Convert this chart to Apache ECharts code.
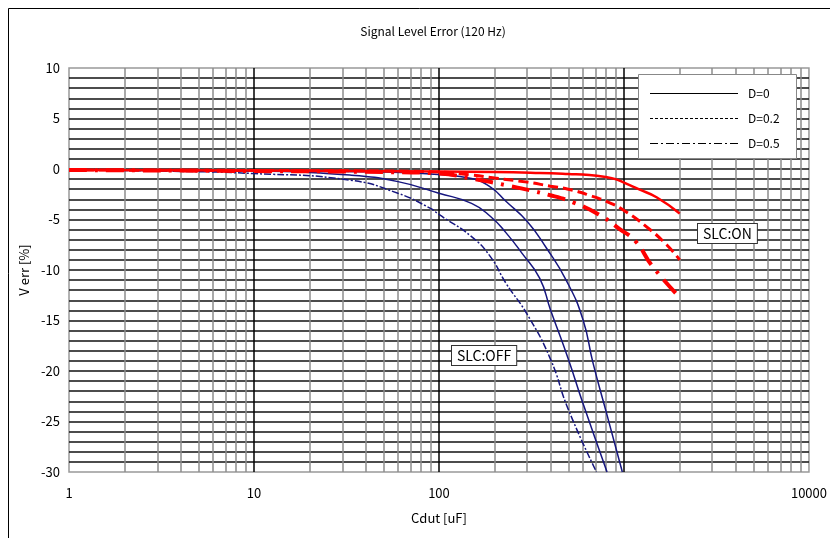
<!DOCTYPE html>
<html>
<head>
<meta charset="utf-8">
<script src="https://cdn.jsdelivr.net/npm/echarts@6/dist/echarts.min.js"></script>
<style>
  html, body { margin: 0; padding: 0; background: #fff; }
  #chart { width: 830px; height: 538px; }
</style>
</head>
<body>
<div id="chart"></div>
<script>
  // SLC:ON (red)
  const onD0X = [1, 10, 100, 200, 350, 500, 650, 800, 900, 1000, 1200, 1500, 2000]
  const onD0Y = [-0.1, -0.15, -0.25, -0.3, -0.4, -0.5, -0.6, -0.8, -1.0, -1.35, -2.0, -2.8, -4.4]
  const onD02X = [1, 10, 50, 100, 150, 200, 300, 400, 500, 650, 850, 1000, 1300, 1700, 2000]
  const onD02Y = [-0.1, -0.15, -0.2, -0.3, -0.6, -0.9, -1.3, -1.7, -2.0, -2.6, -3.4, -4.1, -5.6, -7.5, -9.0]
  const onD05X = [1, 10, 50, 100, 150, 230, 400, 530, 730, 940, 1160, 1420, 2000]
  const onD05Y = [-0.1, -0.2, -0.3, -0.45, -0.95, -1.6, -2.6, -3.3, -4.5, -5.9, -7.2, -9.6, -12.7]

  // SLC:OFF (blue)
  const offD0X = [1, 10, 50, 100, 150, 190, 230, 300, 380, 490, 600, 680, 800, 980]
  const offD0Y = [-0.1, -0.2, -0.3, -0.55, -0.95, -1.8, -3.2, -5.2, -7.8, -11.1, -14.9, -19.2, -24.0, -30]
  const offD02X = [1, 10, 33, 60, 100, 150, 190, 230, 280, 350, 400, 500, 600, 810]
  const offD02Y = [-0.1, -0.2, -0.6, -1.25, -2.4, -3.4, -4.7, -6.3, -8.3, -10.8, -13.9, -18.8, -23.2, -30]
  const offD05X = [1, 3, 10, 33, 60, 90, 100, 150, 190, 230, 300, 400, 500, 710]
  const offD05Y = [-0.1, -0.2, -0.45, -1.1, -2.4, -3.9, -4.5, -6.7, -8.7, -11.3, -14.4, -18.8, -23.8, -30]

  const legendNames = ['D=0', 'D=0.2', 'D=0.5']
  const hiddenXLabels = [1000]

  const FONT = '"Noto Sans CJK JP", "Liberation Sans", sans-serif'
  const RED = '#ff0000'
  const BLUE = '#16167f'

  function zip(xs, ys) {
    return xs.map((x, i) => [x, ys[i]])
  }

  // minor vertical grid lines 2..9 of every decade
  const minorLines = []
  ;[1, 10, 100, 1000].forEach(d => {
    for (let k = 2; k <= 9; k++) minorLines.push({ xAxis: k * d })
  })

  function curve(xs, ys, color, width, type) {
    return {
      type: 'line',
      data: zip(xs, ys),
      smooth: 0.5,
      showSymbol: false,
      symbol: 'none',
      silent: true,
      z: 5,
      lineStyle: { color: color, width: width, type: type },
      itemStyle: { color: color }
    }
  }

  // legend box (black sample lines, shared by both groups)
  const legendDash = ['solid', [3, 2], [8, 3, 2, 3]]
  const legendItems = [
    {
      type: 'rect',
      z: 100,
      shape: { x: 638.5, y: 74.5, width: 158, height: 84 },
      style: { fill: '#fff', stroke: '#888', lineWidth: 1 }
    }
  ]
  legendNames.forEach((name, i) => {
    const y = 93 + i * 25
    legendItems.push({
      type: 'line',
      z: 101,
      shape: { x1: 650, y1: y + 0.5, x2: 738, y2: y + 0.5 },
      style: { stroke: '#000', lineWidth: 1, lineDash: legendDash[i] === 'solid' ? null : legendDash[i] }
    })
    legendItems.push({
      type: 'text',
      z: 101,
      x: 748,
      y: y,
      style: { text: name, font: '12px ' + FONT, fill: '#000', verticalAlign: 'middle' }
    })
  })

  const chart = echarts.init(document.getElementById('chart'))

  chart.setOption({
    animation: false,
    backgroundColor: '#fff',
    textStyle: { fontFamily: FONT },
    title: {
      text: 'Signal Level Error (120 Hz)',
      left: 428,
      textAlign: 'center',
      top: 20,
      textStyle: { fontSize: 12, fontWeight: 'normal', color: '#000', fontFamily: FONT }
    },
    grid: {
      left: 69,
      right: 20,
      top: 68,
      bottom: 66,
      show: true,
      borderColor: '#999',
      borderWidth: 1.5,
      backgroundColor: '#fff'
    },
    xAxis: {
      type: 'log',
      logBase: 10,
      min: 1,
      max: 10000,
      name: 'Cdut [uF]',
      nameLocation: 'middle',
      nameGap: 40,
      nameTextStyle: { fontSize: 13, color: '#000', fontFamily: FONT },
      axisLine: { show: false },
      axisTick: { show: false },
      axisLabel: {
        margin: 15,
        fontSize: 13,
        color: '#000',
        fontFamily: FONT,
        formatter: v => hiddenXLabels.indexOf(v) >= 0 ? '' : String(v)
      },
      splitLine: {
        show: true,
        showMinLine: false,
        showMaxLine: false,
        lineStyle: { color: '#000', width: 1.5 }
      }
    },
    yAxis: {
      type: 'value',
      min: -30,
      max: 10,
      interval: 1,
      name: 'V err [%]',
      nameLocation: 'middle',
      nameGap: 38,
      nameRotate: 90,
      nameTextStyle: { fontSize: 13, color: '#000', fontFamily: FONT },
      axisLine: { show: false },
      axisTick: { show: false },
      axisLabel: {
        margin: 9,
        fontSize: 13,
        color: '#000',
        fontFamily: FONT,
        formatter: v => (v % 5 === 0 ? String(v) : '')
      },
      splitLine: {
        show: true,
        showMinLine: false,
        showMaxLine: false,
        lineStyle: { color: '#111', width: 1.5 }
      }
    },
    series: [
      {
        type: 'line',
        data: [],
        silent: true,
        z: 1,
        markLine: {
          silent: true,
          symbol: ['none', 'none'],
          label: { show: false },
          emphasis: { disabled: true },
          lineStyle: { color: '#8c8c8c', width: 1.5, type: 'solid' },
          data: minorLines
        }
      },
      curve(offD0X, offD0Y, BLUE, 1.5, 'solid'),
      curve(offD02X, offD02Y, BLUE, 1.5, 'solid'),
      curve(offD05X, offD05Y, BLUE, 1.5, [7, 2, 2, 2]),
      curve(onD0X, onD0Y, RED, 2.5, 'solid'),
      curve(onD02X, onD02Y, RED, 3, [10, 5]),
      curve(onD05X, onD05Y, RED, 4, [18, 8, 3, 8])
    ],
    graphic: [
      {
        type: 'rect',
        z: -10,
        shape: { x: 8.5, y: 8.5, width: 900, height: 600 },
        style: { fill: 'none', stroke: '#000', lineWidth: 1 }
      },
      {
        type: 'group',
        z: 100,
        children: legendItems
      },
      {
        type: 'text',
        left: 697,
        top: 223,
        z: 100,
        style: {
          text: 'SLC:ON',
          font: '14px ' + FONT,
          fill: '#000',
          backgroundColor: '#fff',
          borderColor: '#333',
          borderWidth: 1,
          padding: [3, 5, 2, 5]
        }
      },
      {
        type: 'text',
        left: 451,
        top: 345,
        z: 100,
        style: {
          text: 'SLC:OFF',
          font: '14px ' + FONT,
          fill: '#000',
          backgroundColor: '#fff',
          borderColor: '#333',
          borderWidth: 1,
          padding: [3, 5, 2, 5]
        }
      }
    ]
  })
</script>
</body>
</html>
